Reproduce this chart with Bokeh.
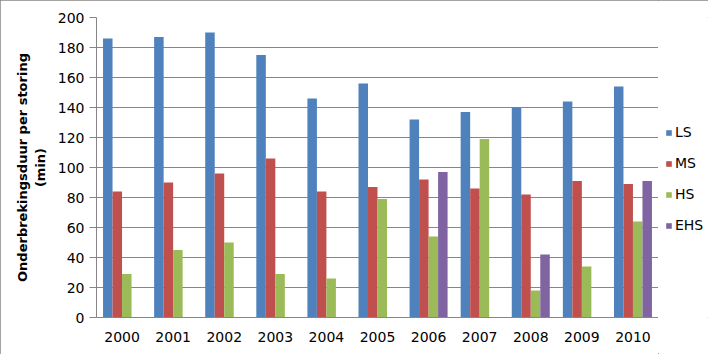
import numpy as np
from bokeh.plotting import figure
from bokeh.layouts import row
from bokeh.models import ColumnDataSource, FactorRange, Legend, LegendItem, SingleIntervalTicker
from bokeh.transform import dodge
from bokeh.embed import file_html
from bokeh.resources import INLINE

years = ["2000", "2001", "2002", "2003", "2004", "2005", "2006", "2007", "2008", "2009", "2010"]
ls = [186, 187, 190, 175, 146, 156, 132, 137, 140, 144, 154]
ms = [84, 90, 96, 106, 84, 87, 92, 86, 82, 91, 89]
hs = [29, 45, 50, 29, 26, 79, 54, 119, 18, 34, 64]
ehs = [np.nan, np.nan, np.nan, np.nan, np.nan, np.nan, 97, np.nan, 42, np.nan, 91]

series = ["LS", "MS", "HS", "EHS"]
colors = ["#4F81BD", "#C0504D", "#9BBB59", "#8064A2"]

src = ColumnDataSource(dict(years=years, LS=ls, MS=ms, HS=hs, EHS=ehs))

FONT = "DejaVu Sans"
GRID = "#868686"

p = figure(x_range=FactorRange(*years), y_range=(0, 200), width=658, height=354,
           output_backend="svg", toolbar_location=None,
           min_border_left=96, min_border_right=0, min_border_top=17, min_border_bottom=37)

bw = 0.186
offsets = [-1.5 * bw, -0.5 * bw, 0.5 * bw, 1.5 * bw]
for s, c, off in zip(series, colors, offsets):
    p.vbar(x=dodge("years", off, range=p.x_range), top=s, width=bw, source=src,
           fill_color=c, line_color=None)

p.outline_line_color = None
p.background_fill_color = "white"
p.border_fill_color = "white"

p.xgrid.grid_line_color = None
p.ygrid.grid_line_color = GRID
p.ygrid.grid_line_width = 1

p.yaxis.ticker = SingleIntervalTicker(interval=20)
p.yaxis.minor_tick_line_color = None
p.yaxis.major_tick_out = 7
p.yaxis.major_tick_in = 0
p.yaxis.major_tick_line_color = GRID
p.yaxis.axis_line_color = GRID
p.yaxis.major_label_standoff = 5
p.yaxis.major_label_text_font = FONT
p.yaxis.major_label_text_font_size = "14px"
p.yaxis.major_label_text_color = "black"
p.yaxis.axis_label = "Onderbrekingsduur per storing\n(min)"
p.yaxis.axis_label_text_font = FONT
p.yaxis.axis_label_text_font_size = "13px"
p.yaxis.axis_label_text_font_style = "bold"
p.yaxis.axis_label_text_color = "black"
p.yaxis.axis_label_standoff = 7

p.xaxis.major_tick_line_color = None
p.xaxis.major_tick_out = 0
p.xaxis.minor_tick_line_color = None
p.xaxis.axis_line_color = GRID
p.xaxis.major_label_standoff = 14
p.xaxis.major_label_text_font = FONT
p.xaxis.major_label_text_font_size = "14px"
p.xaxis.major_label_text_color = "black"
p.x_range.range_padding = 0
p.x_range.group_padding = 0

# legend panel
q = figure(width=50, height=354, x_range=(0, 1), y_range=(0, 1),
           output_backend="svg", toolbar_location=None,
           x_axis_location=None, y_axis_location=None,
           min_border_left=0, min_border_right=0, min_border_top=0, min_border_bottom=0)
q.grid.visible = False
q.outline_line_color = None
q.border_fill_color = "white"
q.background_fill_color = "white"
items = []
for s, c in zip(series, colors):
    r = q.vbar(x=[0.5], top=[np.nan], width=0.1, fill_color=c, line_color=None)
    items.append(LegendItem(label=s, renderers=[r]))

legend = Legend(items=items, location=(7, 82), orientation="vertical")
legend.glyph_width = 7
legend.glyph_height = 7
legend.label_standoff = 3
legend.label_height = 20
legend.spacing = 11
legend.padding = 0
legend.margin = 0
legend.border_line_color = None
legend.background_fill_alpha = 0
legend.label_text_font = FONT
legend.label_text_font_size = "14px"
legend.label_text_color = "black"
q.add_layout(legend, "center")

layout = row(p, q)
layout.styles = {"outline": "1px solid #868686", "outline-offset": "-1px"}

open("out.html", "w").write(file_html(layout, INLINE))
